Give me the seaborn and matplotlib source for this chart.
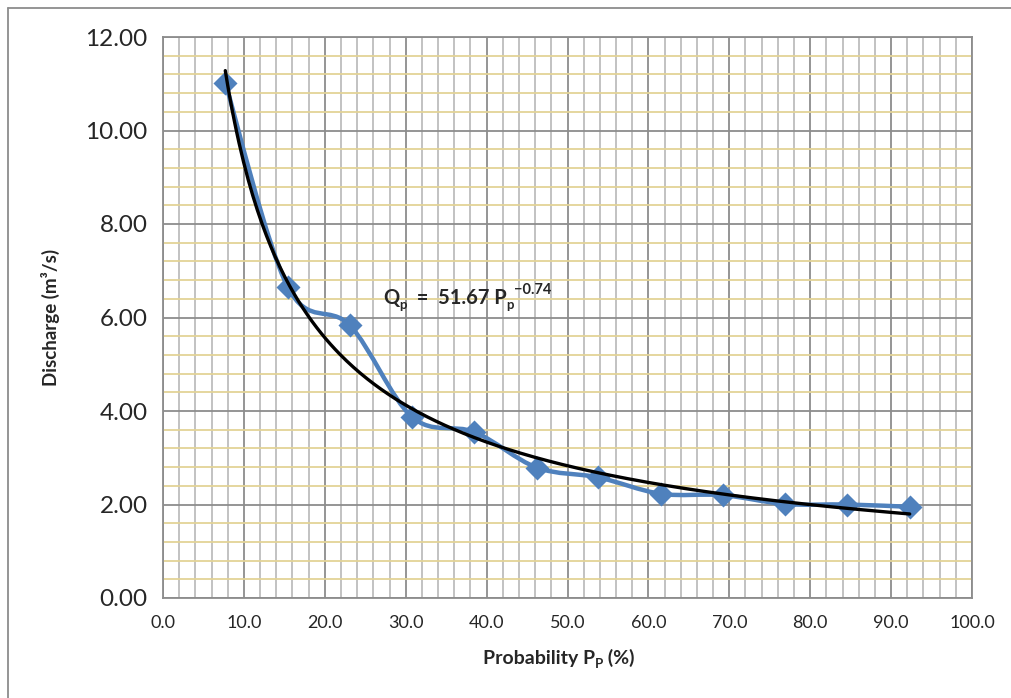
import numpy as np
import pandas as pd
import matplotlib
matplotlib.use("Agg")
import matplotlib.pyplot as plt
import seaborn as sns
from matplotlib.path import Path
from matplotlib.patches import PathPatch
from matplotlib.ticker import MultipleLocator, FormatStrFormatter
from matplotlib.lines import Line2D

# data
probability = [7.7, 15.4, 23.1, 30.8, 38.5, 46.2, 53.8, 61.5, 69.2, 76.9, 84.6, 92.3]
discharge = [11.02, 6.66, 5.83, 3.87, 3.55, 2.79, 2.58, 2.23, 2.20, 2.01, 2.00, 1.95]
x_ticks = [0, 10, 20, 30, 40, 50, 60, 70, 80, 90, 100]
y_ticks = [0, 2, 4, 6, 8, 10, 12]

df = pd.DataFrame({"probability": probability, "discharge": discharge})

sns.set_style("white")
plt.rcParams["font.family"] = ["Lato", "DejaVu Sans"]

fig = plt.figure(figsize=(10.11, 6.98), dpi=100)
ax = fig.add_axes([163 / 1011, 1 - 598 / 698, (972 - 163) / 1011, (598 - 37) / 698])

blue = "#4F81BD"


def chain_text(first, pieces):
    # pieces: (text, fontsize, vertical offset in points from the first piece)
    prev = first
    for txt, size, dy in pieces:
        prev = ax.annotate(txt, xy=(1, 0), xycoords=(prev, first), xytext=(0, dy),
                           textcoords="offset points", fontsize=size,
                           fontweight="bold", va="bottom", ha="left",
                           annotation_clip=False, zorder=6)
    return prev


# smoothed line like excel (bezier through the points)
pts = df[["probability", "discharge"]].to_numpy()
verts = [tuple(pts[0])]
codes = [Path.MOVETO]
n = len(pts)
for i in range(n - 1):
    p0 = pts[i - 1] if i > 0 else pts[i]
    p1 = pts[i]
    p2 = pts[i + 1]
    p3 = pts[i + 2] if i + 2 < n else pts[i + 1]
    c1 = p1 + (p2 - p0) / 6.0
    c2 = p2 - (p3 - p1) / 6.0
    verts += [tuple(c1), tuple(c2), tuple(p2)]
    codes += [Path.CURVE4] * 3
ax.add_patch(PathPatch(Path(verts, codes), facecolor="none", edgecolor=blue,
                       lw=3.2, zorder=3, capstyle="round", joinstyle="round"))

sns.scatterplot(data=df, x="probability", y="discharge", marker="D", s=150,
                color=blue, edgecolor=blue, linewidth=0, zorder=4, ax=ax)

# power trendline fitted from the points
b, log_a = np.polyfit(np.log(df["probability"]), np.log(df["discharge"]), 1)
xs = np.linspace(df["probability"].min(), df["probability"].max(), 300)
trend = pd.DataFrame({"p": xs, "q": np.exp(log_a) * xs ** b})
sns.lineplot(data=trend, x="p", y="q", color="black", lw=2.4, zorder=5, ax=ax)

ax.set_xlim(0, 100)
ax.set_ylim(0, 12)
ax.set_xticks(x_ticks)
ax.set_yticks(y_ticks)
ax.xaxis.set_minor_locator(MultipleLocator(2))
ax.yaxis.set_minor_locator(MultipleLocator(0.4))
ax.xaxis.set_major_formatter(FormatStrFormatter("%.1f"))
ax.yaxis.set_major_formatter(FormatStrFormatter("%.2f"))

ax.grid(which="major", axis="both", color="#8c8c8c", lw=1.3, zorder=1)
ax.grid(which="minor", axis="x", color="#bdbdbd", lw=1.3, zorder=0)
ax.grid(which="minor", axis="y", color="#e3d396", lw=1.3, zorder=0)
ax.set_axisbelow(True)

for s in ax.spines.values():
    s.set_color("#8c8c8c")
    s.set_linewidth(1.3)

ax.tick_params(axis="x", which="major", direction="out", length=6, color="#8c8c8c",
               labelsize=13, pad=6)
ax.tick_params(axis="y", which="major", direction="out", length=6, color="#8c8c8c",
               labelsize=17.5, pad=5)
ax.tick_params(which="minor", length=0)

ax.set_xlabel("")
ax.set_ylabel("Discharge (m\u00b3/s)", fontsize=13.5, fontweight="bold", labelpad=18)

# x label with subscript, built from pieces
xl = ax.text(483 / 1011, 1 - 667 / 698, "Probability P", transform=fig.transFigure,
             fontsize=14, fontweight="bold", va="bottom", ha="left")
chain_text(xl, [("P", 9.5, -2), (" (%)", 14, 0)])

# equation label
eq = ax.text(27.2, 6.2, "Q", fontsize=14.5, fontweight="bold", va="bottom", ha="left", zorder=6)
chain_text(eq, [("p", 9.5, -2), ("  =  51.67 P", 14.5, 0), ("p", 9.5, -2),
                ("\u22120.74", 10.5, 8)])

# outer chart border
fig.add_artist(Line2D([8 / 1011, 8 / 1011], [0, 1 - 8 / 698], color="#8c8c8c", lw=1.3))
fig.add_artist(Line2D([8 / 1011, 1], [1 - 8 / 698, 1 - 8 / 698], color="#8c8c8c", lw=1.3))

fig.savefig("out.png", dpi=100)
